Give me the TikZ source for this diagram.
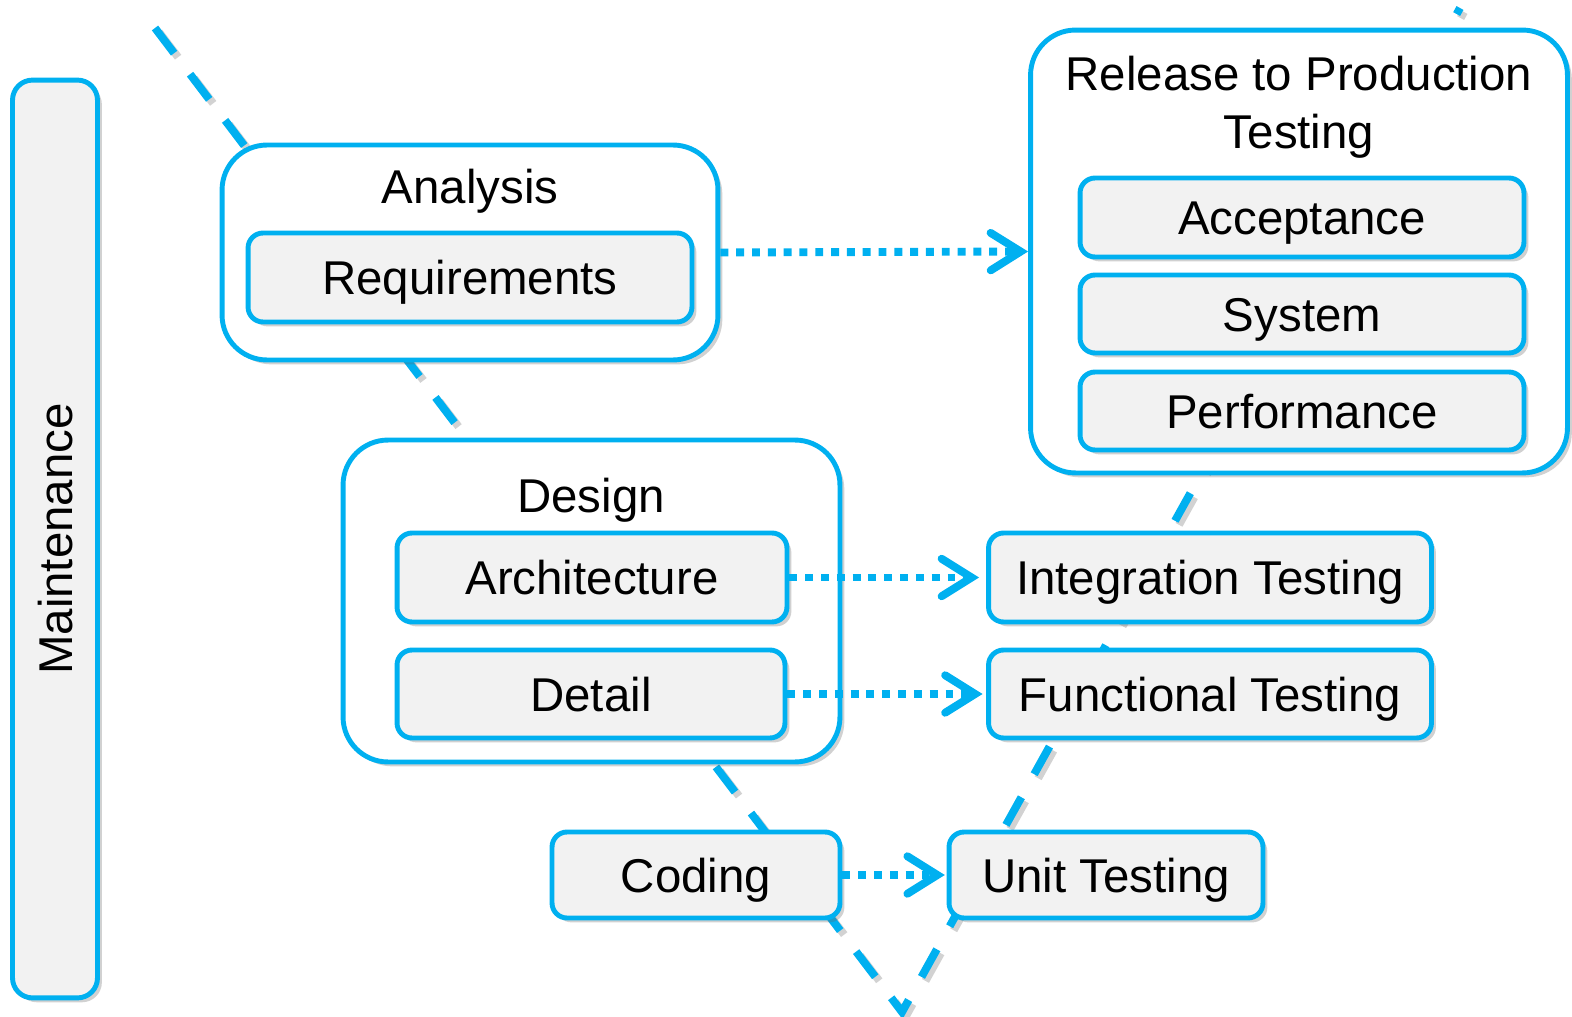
\documentclass[tikz,border=0pt]{standalone}
\usepackage{fontspec}
\setmainfont{Liberation Sans}
\usetikzlibrary{arrows.meta,shadows}
\definecolor{vblue}{RGB}{0,176,240}
\definecolor{boxgray}{RGB}{242,242,242}
\tikzset{
	boxshadow/.style={drop shadow={shadow xshift=2.5pt,shadow yshift=-2.5pt,opacity=0.3,fill=black!60}},
	phasebox/.style={draw=vblue,line width=2.8pt,fill=white,rounded corners=0.9cm,inner sep=0pt,boxshadow},
	taskbox/.style={draw=vblue,line width=2.8pt,fill=boxgray,rounded corners=0.3cm,inner sep=0pt,
		text height=19.4pt,text depth=0pt,font=\fontsize{27}{33}\selectfont,boxshadow},
	phasetitle/.style={font=\fontsize{27}{33}\selectfont,inner sep=0pt},
	vline/.style={vblue,line width=4.5pt,dash pattern=on 18pt off 15pt},
	link/.style={vblue,line width=4.5pt,dash pattern=on 4.5pt off 4.5pt,
		-{Straight Barb[length=0.6cm,width=0.75cm,line cap=round]}}
}
\begin{document}
\begin{tikzpicture}[x=0.02cm,y=-0.02cm]
	\useasboundingbox (0,0) rectangle (1572,1017);
	%v line
	\draw[black!35,opacity=0.5,line width=4.5pt,dash pattern=on 18pt off 15pt] (159,32) -- (906,1016) -- (1464,12);
	\draw[vline] (155,28) -- (902,1012) -- (1460,8);
	
	%maintenance
	\node[taskbox,rotate=90,rounded corners=0.4cm,minimum width=18.36cm,minimum height=1.7cm] (maint) at (55,539) {Maintenance};
	
	%analysis
	\node[phasebox,minimum width=9.92cm,minimum height=4.3cm] (analysis) at (470,252.5) {};
	\node[phasetitle,anchor=base] (analysistitle) at (470,203) {Analysis};
	\node[taskbox,minimum width=8.88cm,minimum height=1.78cm] (req) at (470,277.5) {Requirements};
	
	%release
	\node[phasebox,minimum width=10.74cm,minimum height=8.86cm] (release) at (1299,251.5) {};
	\node[phasetitle,align=center] (releasetitle) at (1299,107) {Release to Production\\Testing};
	\node[taskbox,minimum width=8.88cm,minimum height=1.58cm] (accept) at (1302,217.5) {Acceptance};
	\node[taskbox,minimum width=8.88cm,minimum height=1.56cm] (system) at (1302,314) {System};
	\node[taskbox,minimum width=8.88cm,minimum height=1.56cm] (perf) at (1302,411) {Performance};
	
	%design
	\node[phasebox,minimum width=9.94cm,minimum height=6.44cm] (design) at (591.5,601) {};
	\node[phasetitle,anchor=base] (designtitle) at (591,512) {Design};
	\node[taskbox,minimum width=7.8cm,minimum height=1.78cm] (arch) at (592,577.5) {Architecture};
	\node[taskbox,minimum width=7.76cm,minimum height=1.76cm] (detail) at (591,694) {Detail};
	
	%testing
	\node[taskbox,minimum width=8.86cm,minimum height=1.78cm] (integ) at (1210,577.5) {Integration Testing};
	\node[taskbox,minimum width=8.86cm,minimum height=1.76cm] (func) at (1210,694) {Functional Testing};
	
	%coding
	\node[taskbox,minimum width=5.76cm,minimum height=1.72cm] (coding) at (696,875) {Coding};
	\node[taskbox,minimum width=6.28cm,minimum height=1.72cm] (unit) at (1106,875) {Unit Testing};
	
	%links
	\draw[link] (analysis.east) -- (release.west);
	\draw[link,shorten >=4pt] (arch.east) -- (integ.west);
	\draw[link,shorten >=2pt] (detail.east) -- (func.west);
	\draw[link,shorten >=1pt] (coding.east) -- (unit.west);
\end{tikzpicture}
\end{document}
